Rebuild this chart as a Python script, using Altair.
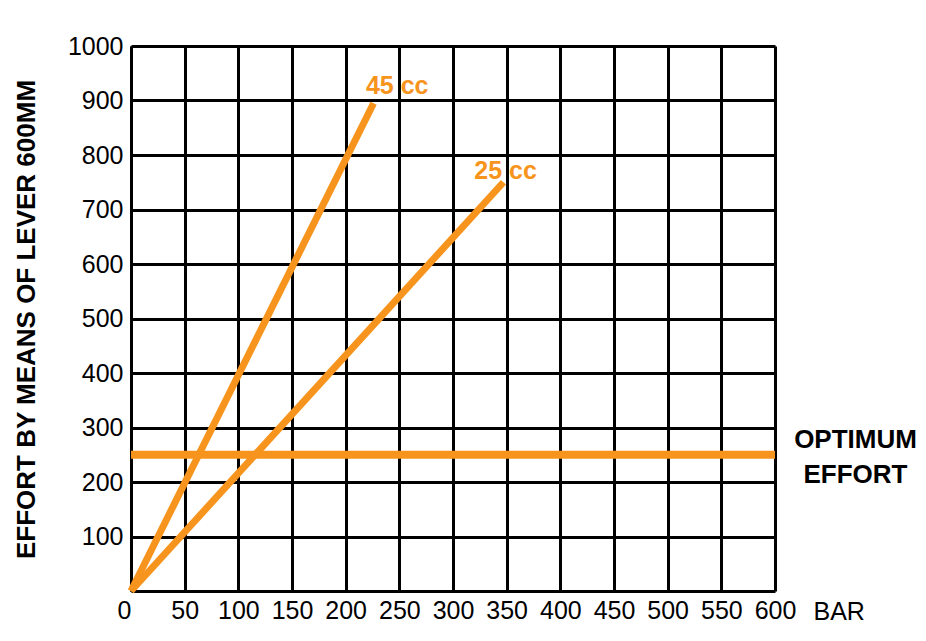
import altair as alt
import pandas as pd

# Series endpoints (BAR, effort)
series_names = ["45 cc", "45 cc", "25 cc", "25 cc"]
series_x = [0, 226, 0, 347]
series_y = [0, 895, 0, 750]

optimum_x = [0, 600]
optimum_y = [250, 250]

x_ticks = list(range(0, 601, 50))
y_ticks = list(range(100, 1001, 100))

label_text = ["45 cc", "25 cc"]
label_x = [248, 349]
label_y = [927, 770]

note_text = ["OPTIMUM", "EFFORT"]
note_x = [675, 675]
note_y = [277, 213]

ORANGE = "#F7941D"
FONT = "Liberation Sans"

lines_df = pd.DataFrame({"series": series_names, "x": series_x, "y": series_y})
opt_df = pd.DataFrame({"x": optimum_x, "y": optimum_y})
lab_df = pd.DataFrame({"t": label_text, "x": label_x, "y": label_y})
note_df = pd.DataFrame({"t": note_text, "x": note_x, "y": note_y})

xscale = alt.Scale(domain=[0, 600], nice=False, zero=False)
yscale = alt.Scale(domain=[0, 1000], nice=False, zero=False)

xaxis = alt.Axis(
    values=x_ticks, format="d", title="BAR", grid=True, gridColor="black", gridWidth=3, gridOpacity=1,
    domainColor="black", domainWidth=3, ticks=False, labelPadding=7,
    labelFontSize=25, labelFont=FONT, labelColor="black", labelOverlap=False,
    labelAlign={"condition": {"test": "datum.value == 0", "value": "right"}, "value": "center"},
    titleFont=FONT, titleFontSize=25, titleFontWeight="normal", titleColor="black",
    titleX=682, titleY=20, titleAlign="left", titleBaseline="middle",
)
yaxis = alt.Axis(
    values=y_ticks, format="d", title="EFFORT BY MEANS OF LEVER 600MM", grid=True, gridColor="black",
    gridWidth=3, gridOpacity=1, domainColor="black", domainWidth=3, ticks=False,
    labelPadding=8, labelFontSize=25, labelFont=FONT, labelColor="black",
    titleFont=FONT, titleFontSize=26, titleFontWeight="bold", titleColor="black",
    titleX=-105, titleY=273, titleAngle=270, titleAlign="center", titleBaseline="middle",
)

base_x = alt.X("x:Q", scale=xscale, axis=xaxis)
base_y = alt.Y("y:Q", scale=yscale, axis=yaxis)

opt = alt.Chart(opt_df).mark_line(color=ORANGE, strokeWidth=8, strokeCap="butt").encode(
    x=base_x, y=base_y
)
lines = alt.Chart(lines_df).mark_line(color=ORANGE, strokeWidth=7, strokeCap="butt").encode(
    x=alt.X("x:Q", scale=xscale), y=alt.Y("y:Q", scale=yscale), detail="series:N"
)
labels = alt.Chart(lab_df).mark_text(
    color=ORANGE, font=FONT, fontSize=25, fontWeight="bold", align="center", baseline="middle"
).encode(x=alt.X("x:Q", scale=xscale), y=alt.Y("y:Q", scale=yscale), text="t:N")
notes = alt.Chart(note_df).mark_text(
    color="black", font=FONT, fontSize=26, fontWeight="bold", align="center", baseline="middle"
).encode(x=alt.X("x:Q", scale=xscale), y=alt.Y("y:Q", scale=yscale), text="t:N")

chart = alt.layer(opt, lines, labels, notes).properties(
    width=644, height=545,
    autosize=alt.AutoSizeParams(type="none"),
    padding={"left": 123, "top": 38, "right": 143, "bottom": 42},
).configure_view(stroke="black", strokeWidth=3).configure(background="white", font=FONT)

chart.save("out.html", embed_options={"renderer": "svg", "actions": False})
